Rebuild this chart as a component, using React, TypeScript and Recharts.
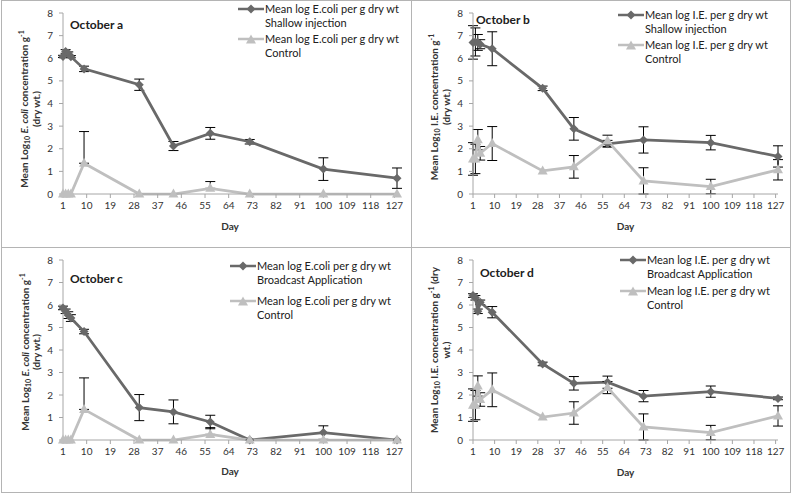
import React from 'react';
import { LineChart, Line, XAxis, YAxis, ErrorBar, Legend } from 'recharts';

const DAYS = [1, 2, 3, 4, 9, 30, 43, 57, 72, 100, 128];
const DAY_TICKS = [1, 10, 19, 28, 37, 46, 55, 64, 73, 82, 91, 100, 109, 118, 127];
const LOG_TICKS = [0, 1, 2, 3, 4, 5, 6, 7, 8];

// October a - E. coli, shallow injection vs control
const A_TREATED = [6.08, 6.3, 6.22, 6.07, 5.53, 4.83, 2.12, 2.68, 2.31, 1.1, 0.7];
const A_TREATED_ERR = [0.05, 0.08, 0.06, 0.05, 0.12, 0.25, 0.2, 0.26, 0.1, 0.5, 0.45];
const A_CONTROL = [0, 0, 0, 0, 1.36, 0, 0, 0.25, 0, 0, 0];
const A_CONTROL_ERR = [0, 0, 0, 0, [0, 1.4], 0, 0, [0, 0.3], 0, 0, 0];

// October b - I.E., shallow injection vs control
const B_TREATED = [6.7, 6.72, 6.7, 6.62, 6.42, 4.67, 2.88, 2.22, 2.39, 2.27, 1.66];
const B_TREATED_ERR = [0.74, 0.62, 0.35, 0.2, 0.75, 0.1, 0.5, 0.15, 0.58, 0.32, 0.47];
const B_CONTROL = [1.55, 1.55, 2.4, 1.8, 2.23, 1.02, 1.2, 2.35, 0.58, 0.33, 1.07];
const B_CONTROL_ERR = [0.72, 0.65, 0.45, 0.3, 0.75, 0, 0.5, 0.25, 0.58, 0.32, 0.45];

// October c - E. coli, broadcast application vs control
const C_TREATED = [5.87, 5.72, 5.55, 5.42, 4.82, 1.44, 1.25, 0.8, 0, 0.33, 0];
const C_TREATED_ERR = [0.08, 0.1, 0.15, 0.15, 0.1, 0.58, 0.53, 0.3, 0, 0.3, 0];
const C_CONTROL = [0, 0, 0, 0, 1.36, 0, 0, 0.25, 0, 0, 0];
const C_CONTROL_ERR = [0, 0, 0, 0, [0, 1.4], 0, 0, [0, 0.3], 0, 0, 0];

// October d - I.E., broadcast application vs control
const D_TREATED = [6.42, 6.32, 5.72, 6.12, 5.68, 3.38, 2.52, 2.57, 1.95, 2.15, 1.85];
const D_TREATED_ERR = [0.08, 0.1, 0.1, 0.1, 0.25, 0.08, 0.3, 0.27, 0.25, 0.25, 0.06];
const D_CONTROL = [1.55, 1.55, 2.4, 1.8, 2.23, 1.02, 1.2, 2.33, 0.58, 0.33, 1.07];
const D_CONTROL_ERR = [0.72, 0.65, 0.45, 0.3, 0.75, 0, 0.5, 0.27, 0.58, 0.32, 0.45];

const DARK = '#696969';
const LIGHT = '#bfbfbf';
const AXIS = '#a6a6a6';
const TEXT = '#333333';
const BORDER = '#b4b4b4';

const buildRows = (treated: number[], treatedErr: any[], control: number[], controlErr: any[]) =>
  DAYS.map((day, i) => ({
    day,
    treated: treated[i],
    treatedErr: treatedErr[i],
    control: control[i],
    controlErr: controlErr[i],
  }));

const diamondPath = (cx: number, cy: number, r = 4.5) =>
  `M${cx},${cy - r}L${cx + r},${cy}L${cx},${cy + r}L${cx - r},${cy}Z`;
const trianglePath = (cx: number, cy: number) =>
  `M${cx},${cy - 5.5}L${cx + 5},${cy + 3.5}L${cx - 5},${cy + 3.5}Z`;

const DiamondDot = (p: any) => (
  <path key={`dm-${p.index}`} d={diamondPath(p.cx, p.cy)} fill={DARK} stroke="none" />
);
const TriangleDot = (p: any) => (
  <path key={`tr-${p.index}`} d={trianglePath(p.cx, p.cy)} fill={LIGHT} stroke="none" />
);

interface LegendItem {
  color: string;
  shape: 'diamond' | 'triangle';
  lines: string[];
}

const PanelLegend = ({ items, gap }: { items: LegendItem[]; gap: number }) => (
  <div style={{ fontSize: 11, color: '#202020', lineHeight: '14px', textAlign: 'left' }}>
    {items.map((it, i) => (
      <div key={i} style={{ display: 'flex', alignItems: 'flex-start', marginBottom: gap }}>
        <svg width={26} height={14} style={{ flex: 'none' }}>
          <line x1={0} y1={7} x2={26} y2={7} stroke={it.color} strokeWidth={2.5} />
          <path d={it.shape === 'diamond' ? diamondPath(13, 7) : trianglePath(13, 8)} fill={it.color} />
        </svg>
        <div style={{ marginLeft: 1 }}>
          {it.lines.map((l) => (
            <div key={l}>{l}</div>
          ))}
        </div>
      </div>
    ))}
  </div>
);

const yTitle = (organism: 'ecoli' | 'ie', wrapDry: boolean, x: number, cy: number) => () => (
  <g transform={`translate(${x},${cy}) rotate(-90)`}>
    <text textAnchor="middle" fontSize={10} fontWeight="bold" fill={TEXT}>
      <tspan>Mean Log</tspan>
      <tspan fontSize={7} dy={2}>10</tspan>
      <tspan dy={-2}> </tspan>
      {organism === 'ecoli' ? (
        <tspan fontStyle="italic">E. coli</tspan>
      ) : (
        <tspan>I.E.</tspan>
      )}
      <tspan> concentration g</tspan>
      <tspan fontSize={7} dy={-4}>-1</tspan>
      <tspan dy={4}>{wrapDry ? ' (dry' : ''}</tspan>
    </text>
    <text y={11.5} textAnchor="middle" fontSize={10} fontWeight="bold" fill={TEXT}>
      {wrapDry ? 'wt.)' : '(dry wt.)'}
    </text>
  </g>
);

const xTitle = (cx: number, y: number) => () => (
  <text x={cx} y={y} textAnchor="middle" fontSize={10} fontWeight="bold" fill={TEXT}>
    Day
  </text>
);

interface PanelProps {
  left: number;
  top: number;
  width: number;
  height: number;
  margin: { top: number; right: number; bottom: number; left: number };
  rows: any[];
  title: string;
  titlePos: { left: number; top: number };
  organism: 'ecoli' | 'ie';
  wrapDry: boolean;
  yTitlePos: { x: number; cy: number };
  dayY: number;
  legendLabel: string;
  treatment: string;
  legendPos: { left: number; top: number; gap: number };
}

const Panel = (p: PanelProps) => {
  const plotLeft = p.margin.left + 40;
  const plotRight = p.width - p.margin.right;
  const items: LegendItem[] = [
    { color: DARK, shape: 'diamond', lines: [p.legendLabel, p.treatment] },
    { color: LIGHT, shape: 'triangle', lines: [p.legendLabel, 'Control'] },
  ];
  return (
    <div style={{ position: 'absolute', left: p.left, top: p.top, width: p.width, height: p.height }}>
      <LineChart width={p.width} height={p.height} data={p.rows} margin={p.margin}>
        <XAxis
          dataKey="day"
          type="number"
          domain={[1, 128]}
          ticks={DAY_TICKS}
          interval={0}
          allowDecimals={false}
          height={30}
          tickSize={4}
          tickMargin={4}
          stroke={AXIS}
          tick={{ fontSize: 10, fill: TEXT }}
          label={xTitle((plotLeft + plotRight) / 2, p.dayY)}
        />
        <YAxis
          type="number"
          domain={[0, 8]}
          ticks={LOG_TICKS}
          interval={0}
          width={40}
          tickSize={4}
          tickMargin={6}
          stroke={AXIS}
          tick={{ fontSize: 10, fill: TEXT }}
          label={yTitle(p.organism, p.wrapDry, p.yTitlePos.x, p.yTitlePos.cy)}
        />
        <Legend
          layout="vertical"
          align="center"
          verticalAlign="middle"
          content={() => <PanelLegend items={items} gap={p.legendPos.gap} />}
          wrapperStyle={{ left: p.legendPos.left, top: p.legendPos.top, width: 175 }}
        />
        <Line
          dataKey="treated"
          stroke={DARK}
          strokeWidth={2.75}
          dot={DiamondDot}
          activeDot={false}
          isAnimationActive={false}
        >
          <ErrorBar dataKey="treatedErr" direction="y" width={5} stroke="#000" strokeWidth={1} />
        </Line>
        <Line
          dataKey="control"
          stroke={LIGHT}
          strokeWidth={2.75}
          dot={TriangleDot}
          activeDot={false}
          isAnimationActive={false}
        >
          <ErrorBar dataKey="controlErr" direction="y" width={5} stroke="#000" strokeWidth={1} />
        </Line>
      </LineChart>
      <div
        style={{
          position: 'absolute',
          left: p.titlePos.left,
          top: p.titlePos.top,
          fontSize: 12,
          fontWeight: 'bold',
          lineHeight: '14px',
          color: '#202020',
        }}
      >
        {p.title}
      </div>
    </div>
  );
};

export default function App() {
  return (
    <div
      style={{
        position: 'absolute',
        left: 0,
        top: 0,
        width: 791,
        height: 493,
        background: '#fff',
        fontFamily: 'Lato, "Open Sans", sans-serif',
      }}
    >
      <Panel
        left={0}
        top={0}
        width={411}
        height={247}
        margin={{ top: 13, right: 14, bottom: 23, left: 23 }}
        rows={buildRows(A_TREATED, A_TREATED_ERR, A_CONTROL, A_CONTROL_ERR)}
        title="October a"
        titlePos={{ left: 70, top: 18 }}
        organism="ecoli"
        wrapDry={false}
        yTitlePos={{ x: 28, cy: 109 }}
        dayY={229.5}
        legendLabel="Mean log E.coli per g dry wt"
        treatment="Shallow injection"
        legendPos={{ left: 238, top: 2, gap: 2 }}
      />
      <Panel
        left={411}
        top={0}
        width={380}
        height={247}
        margin={{ top: 13, right: 13, bottom: 23, left: 22 }}
        rows={buildRows(B_TREATED, B_TREATED_ERR, B_CONTROL, B_CONTROL_ERR)}
        title="October b"
        titlePos={{ left: 65, top: 13 }}
        organism="ie"
        wrapDry={false}
        yTitlePos={{ x: 27, cy: 107 }}
        dayY={229.5}
        legendLabel="Mean log I.E. per g dry wt"
        treatment="Shallow injection"
        legendPos={{ left: 207, top: 8, gap: 2 }}
      />
      <Panel
        left={0}
        top={247}
        width={411}
        height={246}
        margin={{ top: 13, right: 14, bottom: 23, left: 23 }}
        rows={buildRows(C_TREATED, C_TREATED_ERR, C_CONTROL, C_CONTROL_ERR)}
        title="October c"
        titlePos={{ left: 70, top: 25 }}
        organism="ecoli"
        wrapDry={false}
        yTitlePos={{ x: 28.5, cy: 105 }}
        dayY={228}
        legendLabel="Mean log E.coli per g dry wt"
        treatment="Broadcast Application"
        legendPos={{ left: 230, top: 12, gap: 7 }}
      />
      <Panel
        left={411}
        top={247}
        width={380}
        height={246}
        margin={{ top: 13, right: 13, bottom: 23, left: 22 }}
        rows={buildRows(D_TREATED, D_TREATED_ERR, D_CONTROL, D_CONTROL_ERR)}
        title="October d"
        titlePos={{ left: 69, top: 19 }}
        organism="ie"
        wrapDry={true}
        yTitlePos={{ x: 27, cy: 103 }}
        dayY={228.8}
        legendLabel="Mean log I.E. per g dry wt"
        treatment="Broadcast Application"
        legendPos={{ left: 209, top: 6, gap: 3 }}
      />
      {/* panel frames */}
      <div style={{ position: 'absolute', left: 1, top: 0, width: 788, height: 491, border: `1px solid ${BORDER}` }} />
      <div style={{ position: 'absolute', left: 411, top: 0, width: 1, height: 493, background: BORDER }} />
      <div style={{ position: 'absolute', left: 1, top: 247, width: 789, height: 1, background: BORDER }} />
    </div>
  );
}
